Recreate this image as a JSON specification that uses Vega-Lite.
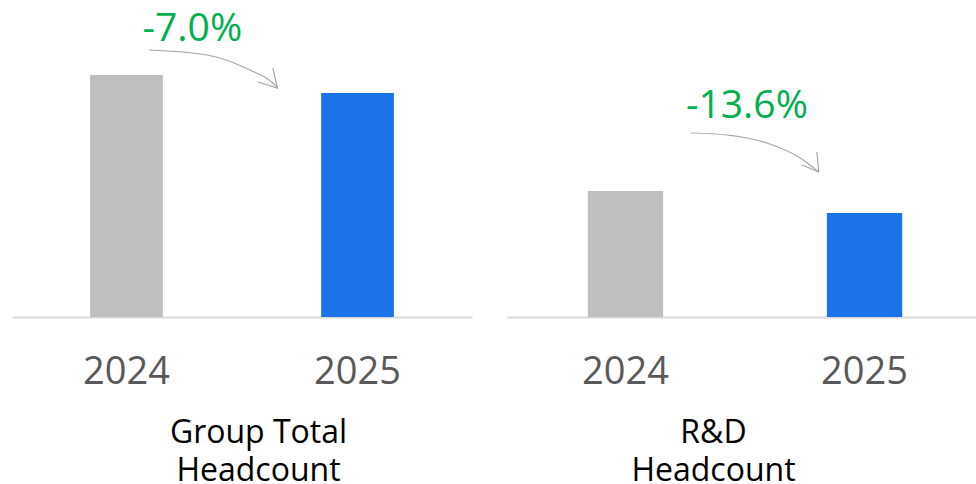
{
  "$schema": "https://vega.github.io/schema/vega-lite/v6.json",
  "padding": {"left": 12, "top": 0, "right": 0, "bottom": 0},
  "background": "white",
  "spacing": 35,
  "bounds": "flush",
  "config": {"view": {"stroke": null}, "font": "Open Sans"},
  "datasets": {
    "bars": [
      {"panel": "Group", "year": "2024", "value": 242},
      {"panel": "Group", "year": "2025", "value": 224},
      {"panel": "RD", "year": "2024", "value": 126},
      {"panel": "RD", "year": "2025", "value": 104}
    ],
    "labels": [
      {"panel": "Group", "x": 39.2, "y": 276, "text": "-7.0%"},
      {"panel": "RD", "x": 50.4, "y": 199, "text": "-13.6%"}
    ],
    "arrows": [
      {"panel": "Group", "part": "curve", "i": 0, "x": 29.8, "y": 267},
      {"panel": "Group", "part": "curve", "i": 1, "x": 42.4, "y": 262},
      {"panel": "Group", "part": "curve", "i": 2, "x": 51.7, "y": 247},
      {"panel": "Group", "part": "curve", "i": 3, "x": 56.7, "y": 234},
      {"panel": "Group", "part": "curve", "i": 4, "x": 57.6, "y": 230},
      {"panel": "Group", "part": "head", "i": 0, "x": 56.7, "y": 249},
      {"panel": "Group", "part": "head", "i": 1, "x": 57.7, "y": 229},
      {"panel": "Group", "part": "head", "i": 2, "x": 53.5, "y": 235},
      {"panel": "RD", "part": "curve", "i": 0, "x": 38.7, "y": 184},
      {"panel": "RD", "part": "curve", "i": 1, "x": 46.2, "y": 182},
      {"panel": "RD", "part": "curve", "i": 2, "x": 54.6, "y": 174},
      {"panel": "RD", "part": "curve", "i": 3, "x": 61.6, "y": 159},
      {"panel": "RD", "part": "curve", "i": 4, "x": 65.5, "y": 145},
      {"panel": "RD", "part": "head", "i": 0, "x": 65.1, "y": 165},
      {"panel": "RD", "part": "head", "i": 1, "x": 65.5, "y": 145},
      {"panel": "RD", "part": "head", "i": 2, "x": 62.0, "y": 152}
    ]
  },
  "hconcat": [
    {
      "width": 460,
      "height": 317,
      "layer": [
        {
          "data": {"name": "bars"},
          "transform": [{"filter": "datum.panel === 'Group'"}],
          "mark": {"type": "bar"},
          "encoding": {
            "x": {
              "field": "year", "type": "nominal",
              "scale": {"paddingInner": 0.685, "paddingOuter": 0.338},
              "axis": {
                "title": ["Group Total", "Headcount"],
                "labelAngle": 0, "labelFontSize": 38, "labelColor": "#595959", "labelPadding": 36,
                "ticks": false, "tickSize": 0, "grid": false,
                "domainColor": "#d9d9d9", "domainWidth": 2,
                "titleFontSize": 32, "titleFontWeight": "normal", "titleColor": "#000000",
                "titleLineHeight": 38, "titleX": 246, "titleY": 125,
                "titleBaseline": "alphabetic", "titleAlign": "center", "titleAnchor": null
              }
            },
            "y": {"field": "value", "type": "quantitative", "scale": {"domain": [0, 317]}, "axis": null},
            "color": {"field": "year", "type": "nominal", "scale": {"domain": ["2024", "2025"], "range": ["#bfbfbf", "#1a73e8"]}, "legend": null}
          }
        },
        {
          "data": {"name": "arrows"},
          "transform": [{"filter": "datum.panel === 'Group' && datum.part === 'curve'"}],
          "mark": {"type": "line", "interpolate": "monotone", "color": "#a6a6a6", "strokeWidth": 1.2},
          "encoding": {
            "x": {"field": "x", "type": "quantitative", "scale": {"domain": [0, 100]}, "axis": null},
            "y": {"field": "y", "type": "quantitative", "scale": {"domain": [0, 317]}, "axis": null},
            "order": {"field": "i"}
          }
        },
        {
          "data": {"name": "arrows"},
          "transform": [{"filter": "datum.panel === 'Group' && datum.part === 'head'"}],
          "mark": {"type": "line", "color": "#a6a6a6", "strokeWidth": 1.2},
          "encoding": {
            "x": {"field": "x", "type": "quantitative", "scale": {"domain": [0, 100]}, "axis": null},
            "y": {"field": "y", "type": "quantitative", "scale": {"domain": [0, 317]}, "axis": null},
            "order": {"field": "i"}
          }
        },
        {
          "data": {"name": "labels"},
          "transform": [{"filter": "datum.panel === 'Group'"}],
          "mark": {"type": "text", "fontSize": 39, "color": "#00b050", "baseline": "alphabetic", "align": "center"},
          "encoding": {
            "x": {"field": "x", "type": "quantitative", "scale": {"domain": [0, 100]}, "axis": null},
            "y": {"field": "y", "type": "quantitative", "scale": {"domain": [0, 317]}, "axis": null},
            "text": {"field": "text"}
          }
        }
      ],
      "resolve": {"scale": {"x": "independent"}, "axis": {"x": "independent"}}
    },
    {
      "width": 476,
      "height": 317,
      "layer": [
        {
          "data": {"name": "bars"},
          "transform": [{"filter": "datum.panel === 'RD'"}],
          "mark": {"type": "bar"},
          "encoding": {
            "x": {
              "field": "year", "type": "nominal",
              "scale": {"paddingInner": 0.685, "paddingOuter": 0.338},
              "axis": {
                "title": ["R&D", "Headcount"],
                "labelAngle": 0, "labelFontSize": 38, "labelColor": "#595959", "labelPadding": 36,
                "ticks": false, "tickSize": 0, "grid": false,
                "domainColor": "#d9d9d9", "domainWidth": 2,
                "titleFontSize": 32, "titleFontWeight": "normal", "titleColor": "#000000",
                "titleLineHeight": 38, "titleX": 206, "titleY": 125,
                "titleBaseline": "alphabetic", "titleAlign": "center", "titleAnchor": null
              }
            },
            "y": {"field": "value", "type": "quantitative", "scale": {"domain": [0, 317]}, "axis": null},
            "color": {"field": "year", "type": "nominal", "scale": {"domain": ["2024", "2025"], "range": ["#bfbfbf", "#1a73e8"]}, "legend": null}
          }
        },
        {
          "data": {"name": "arrows"},
          "transform": [{"filter": "datum.panel === 'RD' && datum.part === 'curve'"}],
          "mark": {"type": "line", "interpolate": "monotone", "color": "#a6a6a6", "strokeWidth": 1.2},
          "encoding": {
            "x": {"field": "x", "type": "quantitative", "scale": {"domain": [0, 100]}, "axis": null},
            "y": {"field": "y", "type": "quantitative", "scale": {"domain": [0, 317]}, "axis": null},
            "order": {"field": "i"}
          }
        },
        {
          "data": {"name": "arrows"},
          "transform": [{"filter": "datum.panel === 'RD' && datum.part === 'head'"}],
          "mark": {"type": "line", "color": "#a6a6a6", "strokeWidth": 1.2},
          "encoding": {
            "x": {"field": "x", "type": "quantitative", "scale": {"domain": [0, 100]}, "axis": null},
            "y": {"field": "y", "type": "quantitative", "scale": {"domain": [0, 317]}, "axis": null},
            "order": {"field": "i"}
          }
        },
        {
          "data": {"name": "labels"},
          "transform": [{"filter": "datum.panel === 'RD'"}],
          "mark": {"type": "text", "fontSize": 39, "color": "#00b050", "baseline": "alphabetic", "align": "center"},
          "encoding": {
            "x": {"field": "x", "type": "quantitative", "scale": {"domain": [0, 100]}, "axis": null},
            "y": {"field": "y", "type": "quantitative", "scale": {"domain": [0, 317]}, "axis": null},
            "text": {"field": "text"}
          }
        }
      ],
      "resolve": {"scale": {"x": "independent"}, "axis": {"x": "independent"}}
    }
  ]
}
